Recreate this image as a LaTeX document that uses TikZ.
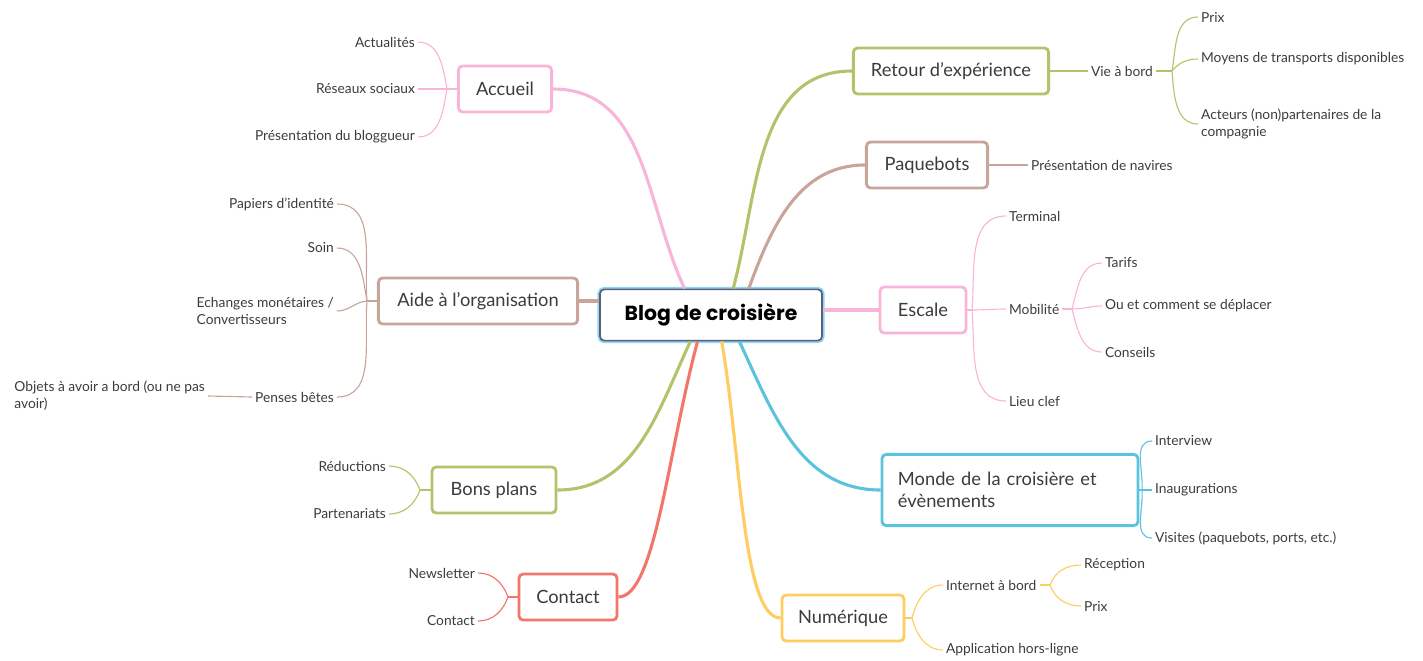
\documentclass[tikz,border=0pt]{standalone}
\usepackage{fontspec}
\setmainfont{Lato}
\newfontfamily\titlefont{Poppins}
\usepackage{tikz}
\usetikzlibrary{positioning}
\definecolor{mmpink}{HTML}{F8B4D9}
\definecolor{mmbrown}{HTML}{C9A49B}
\definecolor{mmolive}{HTML}{B4C36B}
\definecolor{mmred}{HTML}{F2766C}
\definecolor{mmcyan}{HTML}{5BC3DC}
\definecolor{mmyellow}{HTML}{FFCC60}
\definecolor{mmtext}{HTML}{3C3C3C}
\definecolor{mmglow}{HTML}{8FD6F5}
\definecolor{mmcore}{HTML}{5A5F7A}

\begin{document}
\begin{tikzpicture}[x=0.025cm, y=-0.025cm,
    topic/.style={draw, fill=white, rounded corners=3pt, line width=2pt,
                  minimum height=1.15cm, font=\fontsize{13}{16}\selectfont,
                  text=mmtext},
    leaf/.style={font=\fontsize{9.8}{12.2}\selectfont, text=mmtext, inner sep=2pt},
    branch/.style={line width=2.2pt},
    twig/.style={line width=0.8pt}
  ]
  \useasboundingbox (0,0) rectangle (1423,660);

  \node[draw=mmcore, line width=1.2pt, fill=white, rounded corners=3pt,
        preaction={draw=mmglow, line width=3.6pt},
        minimum width=5.55cm, minimum height=1.28cm,
        font=\titlefont\bfseries\fontsize{14.5}{17}\selectfont] (blog) at (711,315) {Blog de croisière};

  \node[topic, draw=mmpink,   minimum width=2.33cm] (accueil)   at (505,89)  {Accueil};
  \node[topic, draw=mmbrown,  minimum width=4.98cm] (aide)      at (478,301) {Aide à l'organisation};
  \node[topic, draw=mmolive,  minimum width=3.1cm]  (bons)      at (494,490) {Bons plans};
  \node[topic, draw=mmred,    minimum width=2.45cm] (contact)   at (568,597) {Contact};
  \node[topic, draw=mmolive,  minimum width=4.88cm] (retour)    at (951,71)  {Retour d'expérience};
  \node[topic, draw=mmbrown,  minimum width=3.03cm] (paquebots) at (927,165) {Paquebots};
  \node[topic, draw=mmpink,   minimum width=2.15cm] (escale)    at (923,310) {Escale};
  \node[topic, draw=mmcyan,   minimum height=1.78cm, text width=5.6cm, inner xsep=0.4cm,
        align=left] (monde) at (1010,490) {Monde de la croisière et\\évènements};
  \node[topic, draw=mmyellow, minimum width=3.05cm] (numerique) at (843,618) {Numérique};

  \draw[branch, mmpink]   (accueil.east) to[out=0, in=115] (blog.135);
  \draw[branch, mmbrown]  (aide.east) -- (aide.east -| blog.west);
  \draw[branch, mmolive]  (bons.east) to[out=0, in=-115] (blog.232);
  \draw[branch, mmred]    (contact.east) to[out=0, in=-105, out looseness=0.35,
                          in looseness=1.1] (blog.243);
  \draw[branch, mmolive]  (blog.50) to[out=75, in=180] (retour.west);
  \draw[branch, mmbrown]  (blog.35) to[out=70, in=180] (paquebots.west);
  \draw[branch, mmpink]   (escale.west -| blog.east) -- (escale.west);
  \draw[branch, mmcyan]   (blog.317) to[out=-65, in=180] (monde.west);
  \draw[branch, mmyellow] (blog.292) to[out=-80, in=180, in looseness=0.35] (numerique.west);

  % left side
  \node[leaf, anchor=east] (actualites)   at (418,42)  {Actualités};
  \node[leaf, anchor=east] (reseaux)      at (418,89)  {Réseaux sociaux};
  \node[leaf, anchor=east] (presentation) at (418,137) {Présentation du bloggueur};
  \coordinate (accueil-j) at (447,89);
  \draw[twig, mmpink] (accueil.west) -- (accueil-j);
  \foreach \leaf/\a in {actualites/100, reseaux/180, presentation/-100}
    \draw[twig, mmpink] (accueil-j) to[out=\a, in=0] (\leaf.east);

  \node[leaf, anchor=east] (papiers)  at (337,204) {Papiers d'identité};
  \node[leaf, anchor=east] (soin)     at (337,248) {Soin};
  \node[leaf, anchor=east, align=left] (echanges) at (337,311) {Echanges monétaires /\\Convertisseurs};
  \node[leaf, anchor=east] (penses)   at (337,397) {Penses bêtes};
  \node[leaf, anchor=east, align=left] (objets) at (208,396) {Objets à avoir a bord (ou ne pas\\avoir)};
  \coordinate (aide-j) at (367,301);
  \draw[twig, mmbrown] (aide.west) -- (aide-j);
  \foreach \leaf/\a in {papiers/95, soin/100, echanges/185, penses/-95}
    \draw[twig, mmbrown] (aide-j) to[out=\a, in=0] (\leaf.east);
  \draw[twig, mmbrown] (penses.west) -- (objets.east);

  \node[leaf, anchor=east] (reductions)   at (389,466) {Réductions};
  \node[leaf, anchor=east] (partenariats) at (389,514) {Partenariats};
  \coordinate (bons-j) at (420,490);
  \draw[twig, mmolive] (bons.west) -- (bons-j);
  \foreach \leaf/\a in {reductions/110, partenariats/-110}
    \draw[twig, mmolive] (bons-j) to[out=\a, in=0] (\leaf.east);

  \node[leaf, anchor=east] (newsletter) at (478,573) {Newsletter};
  \node[leaf, anchor=east] (contactleaf) at (478,621) {Contact};
  \coordinate (contact-j) at (508,597);
  \draw[twig, mmred] (contact.west) -- (contact-j);
  \foreach \leaf/\a in {newsletter/110, contactleaf/-110}
    \draw[twig, mmred] (contact-j) to[out=\a, in=0] (\leaf.east);

  % right side
  \node[leaf, anchor=west] (vie) at (1088,71) {Vie à bord};
  \draw[twig, mmolive] (retour.east) -- (vie.west);
  \node[leaf, anchor=west] (prix)    at (1198,17)  {Prix};
  \node[leaf, anchor=west] (moyens)  at (1198,59)  {Moyens de transports disponibles};
  \node[leaf, anchor=west, align=left] (acteurs) at (1198,124) {Acteurs (non)partenaires de la\\compagnie};
  \coordinate (vie-j) at (1172,71);
  \draw[twig, mmolive] (vie.east) -- (vie-j);
  \foreach \leaf/\a in {prix/80, moyens/50, acteurs/-85}
    \draw[twig, mmolive] (vie-j) to[out=\a, in=180] (\leaf.west);

  \node[leaf, anchor=west] (navires) at (1028,165) {Présentation de navires};
  \draw[twig, mmbrown] (paquebots.east) -- (navires.west);

  \node[leaf, anchor=west] (terminal) at (1006,216) {Terminal};
  \node[leaf, anchor=west] (mobilite) at (1006,309) {Mobilité};
  \node[leaf, anchor=west] (lieu)     at (1006,401) {Lieu clef};
  \coordinate (escale-j) at (972,310);
  \draw[twig, mmpink] (escale.east) -- (escale-j);
  \foreach \leaf/\a in {terminal/85, mobilite/0, lieu/-85}
    \draw[twig, mmpink] (escale-j) to[out=\a, in=180] (\leaf.west);

  \node[leaf, anchor=west] (tarifs)    at (1102,263) {Tarifs};
  \node[leaf, anchor=west] (deplacer)  at (1102,306) {Ou et comment se déplacer};
  \node[leaf, anchor=west] (conseils)  at (1102,352) {Conseils};
  \coordinate (mobilite-j) at (1072,309);
  \draw[twig, mmpink] (mobilite.east) -- (mobilite-j);
  \foreach \leaf/\a in {tarifs/75, deplacer/0, conseils/-75}
    \draw[twig, mmpink] (mobilite-j) to[out=\a, in=180] (\leaf.west);

  \node[leaf, anchor=west] (interview)     at (1152,441) {Interview};
  \node[leaf, anchor=west] (inaugurations) at (1152,490) {Inaugurations};
  \node[leaf, anchor=west] (visites)       at (1152,538) {Visites (paquebots, ports, etc.)};
  \coordinate (monde-j) at (1142,490);
  \draw[twig, mmcyan] (monde.east) -- (monde-j);
  \foreach \leaf/\a in {interview/85, inaugurations/0, visites/-85}
    \draw[twig, mmcyan] (monde-j) to[out=\a, in=180] (\leaf.west);

  \node[leaf, anchor=west] (internet)    at (943,585) {Internet à bord};
  \node[leaf, anchor=west] (application) at (943,650) {Application hors-ligne};
  \coordinate (numerique-j) at (912,618);
  \draw[twig, mmyellow] (numerique.east) -- (numerique-j);
  \foreach \leaf/\a in {internet/75, application/-75}
    \draw[twig, mmyellow] (numerique-j) to[out=\a, in=180] (\leaf.west);

  \node[leaf, anchor=west] (reception) at (1081,565) {Réception};
  \node[leaf, anchor=west] (prixnet)   at (1081,606) {Prix};
  \coordinate (internet-j) at (1050,585);
  \draw[twig, mmyellow] (internet.east) -- (internet-j);
  \foreach \leaf/\a in {reception/70, prixnet/-70}
    \draw[twig, mmyellow] (internet-j) to[out=\a, in=180] (\leaf.west);
\end{tikzpicture}
\end{document}
